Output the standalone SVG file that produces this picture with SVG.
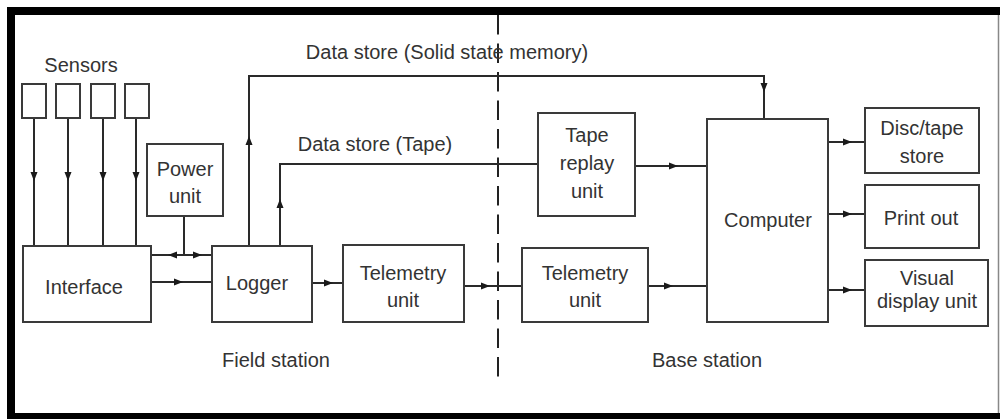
<svg xmlns="http://www.w3.org/2000/svg" xmlns:xlink="http://www.w3.org/1999/xlink" width="1000" height="419" viewBox="0 0 1000 419">
<style>
.box{fill:#fff;stroke:#3a3a3a;stroke-width:2}
.ln{fill:none;stroke:#2a2a2a;stroke-width:2}
.ah{fill:#1a1a1a}
text{font-family:"Liberation Sans",Arial,sans-serif;font-size:20px;fill:#333;text-anchor:middle}
</style>
<defs>
<path id="ah" class="ah" d="M4,0 L-5,-3.5 L-5,3.5 Z"/>
</defs>
<rect x="0" y="0" width="1000" height="419" fill="#fff"/>
<g id="frame">
<rect x="7" y="7" width="993" height="8" fill="#000"/>
<rect x="7" y="7" width="8" height="412" fill="#000"/>
<rect x="7" y="413" width="993" height="6" fill="#000"/>
<line x1="998.5" y1="15" x2="998.5" y2="413" stroke="#888" stroke-width="1.5"/>
</g>
<g id="divider">
<line x1="498" y1="15" x2="498" y2="377" stroke="#222" stroke-width="2" stroke-dasharray="19.5 9"/>
</g>
<g id="connectors">
<path class="ln" d="M34,118V246M68,118V246M103,118V246M136,118V246"/>
<use xlink:href="#ah" transform="translate(34,177) rotate(90)"/>
<use xlink:href="#ah" transform="translate(68,177) rotate(90)"/>
<use xlink:href="#ah" transform="translate(103,177) rotate(90)"/>
<use xlink:href="#ah" transform="translate(136,177) rotate(90)"/>
<path class="ln" d="M184,216V255M151,255H212"/>
<use xlink:href="#ah" transform="translate(172,255) rotate(180)"/>
<use xlink:href="#ah" transform="translate(198,255)"/>
<path class="ln" d="M151,282H212"/>
<use xlink:href="#ah" transform="translate(179,282)"/>
<path class="ln" d="M312,283H343"/>
<use xlink:href="#ah" transform="translate(329,283)"/>
<path class="ln" d="M464,286H522"/>
<use xlink:href="#ah" transform="translate(486,286)"/>
<path class="ln" d="M648,286H707"/>
<use xlink:href="#ah" transform="translate(669,286)"/>
<path class="ln" d="M249,246V76H764V119"/>
<use xlink:href="#ah" transform="translate(249,140) rotate(-90)"/>
<use xlink:href="#ah" transform="translate(764,88) rotate(90)"/>
<path class="ln" d="M280,246V164H538"/>
<use xlink:href="#ah" transform="translate(280,203) rotate(-90)"/>
<path class="ln" d="M635,166H707"/>
<use xlink:href="#ah" transform="translate(674,166)"/>
<path class="ln" d="M828,142H865M828,214H865M828,290H865"/>
<use xlink:href="#ah" transform="translate(848,142)"/>
<use xlink:href="#ah" transform="translate(848,214)"/>
<use xlink:href="#ah" transform="translate(848,290)"/>
</g>
<g id="sensors">
<text x="81" y="72">Sensors</text>
<rect class="box" x="22" y="84" width="24" height="34"/>
<rect class="box" x="56" y="84" width="24" height="34"/>
<rect class="box" x="91" y="84" width="24" height="34"/>
<rect class="box" x="125" y="84" width="24" height="34"/>
</g>
<g id="power-unit">
<rect class="box" x="147" y="144" width="76" height="72"/>
<text x="185" y="176">Power</text>
<text x="185" y="203">unit</text>
</g>
<g id="interface">
<rect class="box" x="23" y="246" width="128" height="76"/>
<text x="84" y="294">Interface</text>
</g>
<g id="logger">
<rect class="box" x="212" y="246" width="100" height="76"/>
<text x="257" y="290">Logger</text>
</g>
<g id="telemetry-field">
<rect class="box" x="343" y="245" width="121" height="77"/>
<text x="403" y="280">Telemetry</text>
<text x="403" y="307">unit</text>
</g>
<g id="telemetry-base">
<rect class="box" x="522" y="248" width="126" height="74"/>
<text x="585" y="280">Telemetry</text>
<text x="585" y="307">unit</text>
</g>
<g id="tape-replay">
<rect class="box" x="538" y="113" width="97" height="103"/>
<text x="587" y="142">Tape</text>
<text x="587" y="170">replay</text>
<text x="587" y="198">unit</text>
</g>
<g id="computer">
<rect class="box" x="707" y="119" width="121" height="203"/>
<text x="768" y="227">Computer</text>
</g>
<g id="disc-tape">
<rect class="box" x="865" y="108" width="114" height="65"/>
<text x="922" y="135">Disc/tape</text>
<text x="922" y="163">store</text>
</g>
<g id="print-out">
<rect class="box" x="865" y="185" width="114" height="63"/>
<text x="921" y="225">Print out</text>
</g>
<g id="vdu">
<rect class="box" x="865" y="260" width="123" height="66"/>
<text x="927" y="285">Visual</text>
<text x="927" y="308">display unit</text>
</g>
<g id="labels">
<text x="447" y="59">Data store (Solid state memory)</text>
<text x="375" y="151">Data store (Tape)</text>
<text x="276" y="367">Field station</text>
<text x="707" y="367">Base station</text>
</g>
</svg>
